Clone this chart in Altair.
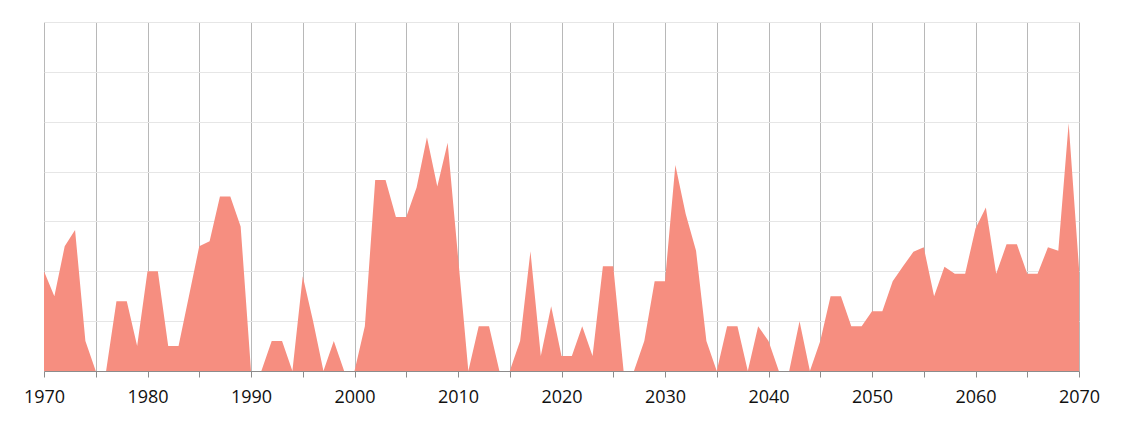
import altair as alt
import pandas as pd

years = list(range(1970, 2071))
values = [
    2.0, 1.5, 2.5, 2.83, 0.6, 0.0, 0.0, 1.4, 1.4, 0.5,   # 1970-1979
    2.0, 2.0, 0.5, 0.5, 1.5, 2.5, 2.6, 3.5, 3.5, 2.9,    # 1980-1989
    0.0, 0.0, 0.6, 0.6, 0.0, 1.9, 1.0, 0.0, 0.6, 0.0,    # 1990-1999
    0.0, 0.9, 3.83, 3.83, 3.09, 3.09, 3.68, 4.69, 3.7, 4.58,  # 2000-2009
    2.3, 0.0, 0.9, 0.9, 0.0, 0.0, 0.6, 2.4, 0.3, 1.3,   # 2010-2019
    0.3, 0.3, 0.9, 0.3, 2.1, 2.1, 0.0, 0.0, 0.6, 1.8,   # 2020-2029
    1.8, 4.13, 3.15, 2.41, 0.6, 0.0, 0.9, 0.9, 0.0, 0.9,  # 2030-2039
    0.6, 0.0, 0.0, 1.0, 0.0, 0.6, 1.5, 1.5, 0.9, 0.9,   # 2040-2049
    1.2, 1.2, 1.8, 2.1, 2.39, 2.48, 1.5, 2.09, 1.95, 1.95,  # 2050-2059
    2.86, 3.28, 1.95, 2.54, 2.54, 1.95, 1.95, 2.48, 2.41, 4.97,  # 2060-2069
    2.06,  # 2070
]
x_tick_values = list(range(1970, 2071, 5))
y_tick_values = list(range(0, 8))

df = pd.DataFrame({"year": years, "value": values})

chart = (
    alt.Chart(df)
    .mark_area(color="#F68E80", opacity=1, interpolate="linear")
    .encode(
        x=alt.X(
            "year:Q",
            scale=alt.Scale(domain=[1970, 2070], nice=False, zero=False),
            axis=alt.Axis(
                title=None,
                values=x_tick_values,
                labelExpr="datum.value % 10 == 0 ? datum.label : ''",
                format="d",
                grid=True,
                gridColor="#b8b8b8",
                gridWidth=1,
                domainColor="#8c8c8c",
                tickColor="#8c8c8c",
                tickSize=6,
                labelFlush=False,
                labelOverlap=False,
                labelFont="Open Sans",
                labelFontSize=18,
                labelColor="#111111",
                labelPadding=11,
            ),
        ),
        y=alt.Y(
            "value:Q",
            scale=alt.Scale(domain=[0, 7], nice=False),
            axis=alt.Axis(
                title=None,
                values=y_tick_values,
                labels=False,
                ticks=False,
                domain=False,
                grid=True,
                gridColor="#e6e6e6",
                gridWidth=1,
            ),
        ),
    )
    .properties(
        width=1035,
        height=349,
        autosize=alt.AutoSizeParams(type="none"),
        padding={"left": 36, "top": 14, "right": 30, "bottom": 40},
    )
    .configure_view(stroke=None)
)

chart.save("out.html", embed_options={"renderer": "svg", "actions": False})
